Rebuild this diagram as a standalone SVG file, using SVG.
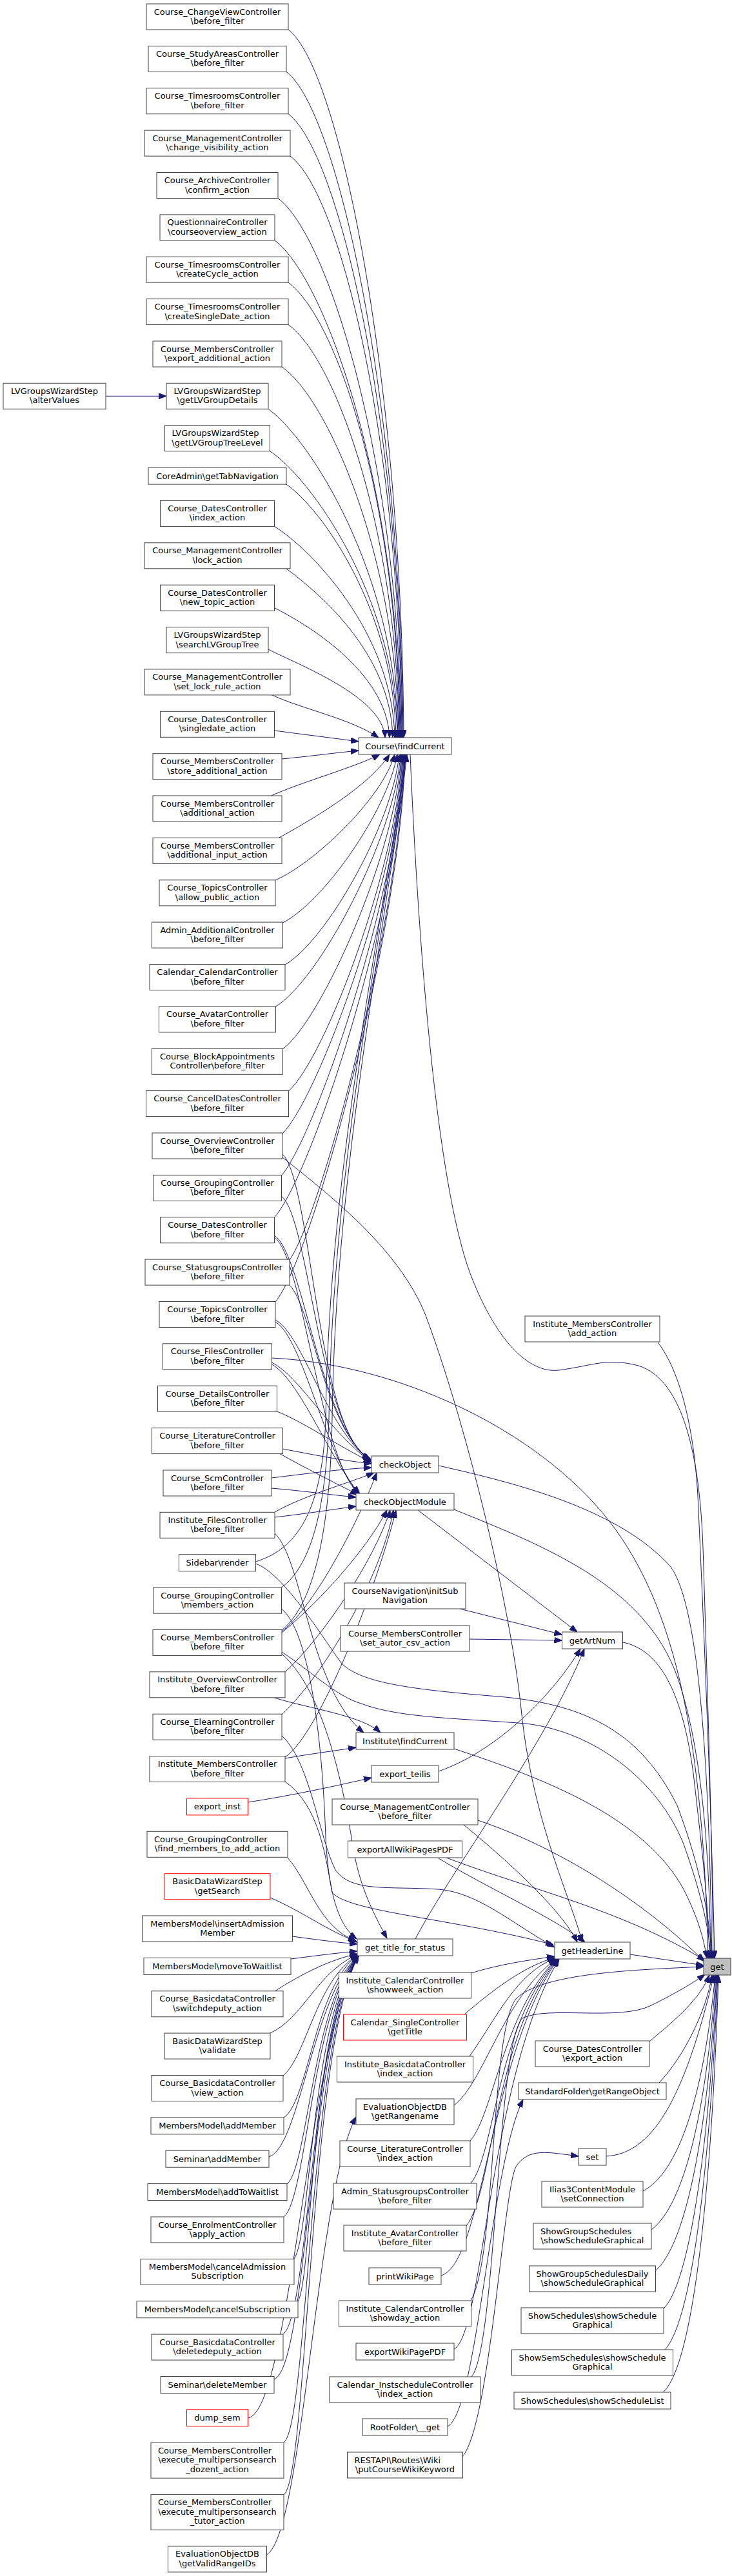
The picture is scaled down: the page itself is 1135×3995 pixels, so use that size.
<svg xmlns="http://www.w3.org/2000/svg" width="1135" height="3995" viewBox="0 0 1135 3995">
<style>
.n rect{fill:#fff;stroke:#404040;stroke-width:1}
.r rect{fill:#fff;stroke:#ff0000;stroke-width:1}
.g rect{fill:#bfbfbf;stroke:#404040;stroke-width:1}
text{font-family:"DejaVu Sans","Liberation Sans",sans-serif;font-size:13px;fill:#000;text-anchor:middle}
text.l{text-anchor:start}
#edges path{fill:none;stroke:#191970;stroke-width:1;marker-end:url(#a)}
</style>
<defs>
<marker id="a" viewBox="0 0 12 9" markerWidth="12" markerHeight="9" refX="12" refY="4.5" orient="auto" markerUnits="userSpaceOnUse"><path d="M0,0 L12,4.5 L0,9 z" fill="#191970" stroke="#191970"/></marker>
</defs>
<rect width="1135" height="3995" fill="#fff"/>
<g id="edges">
<path d="M164,614.3 L258,614.3"/>
<path d="M447,46 C527,106 623,595 626,1144"/>
<path d="M444,111.4 C524,171 622,628 625,1144"/>
<path d="M447,176.7 C527,237 621,660 624,1144"/>
<path d="M450,242.1 C530,302 620,693 623,1144"/>
<path d="M431,307.5 C511,367 619,726 622,1144"/>
<path d="M426,372.9 C506,433 618,758 621,1144"/>
<path d="M447,438.2 C527,498 617,791 620,1144"/>
<path d="M447,503.6 C520,555 616,824 619,1144"/>
<path d="M437,569 C505,615 615,856 618,1144"/>
<path d="M416,634.3 C480,680 614,889 617,1144"/>
<path d="M418.5,699.7 C480,740 613,922 616,1144"/>
<path d="M444,751.1 C500,790 611,948 614,1144"/>
<path d="M425.5,816.4 C480,850 609,980 612,1144"/>
<path d="M444,882 C495,920 606,1013 609,1144"/>
<path d="M425.5,942.7 C470,965 600,1040 604,1144"/>
<path d="M416,1007 C460,1030 594,1080 597,1144"/>
<path d="M422,1078 C470,1100 545,1115 587,1144"/>
<path d="M425.5,1133 C470,1139 512,1144 556,1150"/>
<path d="M437,1177 C480,1173 515,1168 556,1164"/>
<path d="M420.6,1234 C470,1212 550,1190 589,1170"/>
<path d="M433,1299 C500,1262 575,1215 604,1170"/>
<path d="M427,1365 C485,1340 592,1240 612,1170"/>
<path d="M438.5,1431 C500,1400 600,1260 616,1170"/>
<path d="M442,1496 C505,1460 608,1280 619,1170"/>
<path d="M427.5,1561 C495,1520 612,1300 621,1170"/>
<path d="M438.5,1627 C500,1580 615,1320 622,1170"/>
<path d="M447.5,1692 C505,1640 617,1340 623,1170"/>
<path d="M438,1758 C495,1700 618,1360 624,1170"/>
<path d="M436.5,1823 C490,1760 619,1380 625,1170"/>
<path d="M425.5,1888 C485,1820 620,1400 626,1170"/>
<path d="M449,1954 C500,1880 621,1420 627,1170"/>
<path d="M427,2019 C485,1950 622,1440 628,1170"/>
<path d="M396.5,2422 C450,2405 500,2360 505,2200 C510,1800 600,1400 629,1170"/>
<path d="M436.5,2462 C480,2430 505,2350 510,2200 C515,1800 602,1400 630,1170"/>
<path d="M437,2528 C485,2490 512,2380 515,2200 C520,1800 605,1400 631,1170"/>
<path d="M438,1790 C483,1830 492,2230 574,2262"/>
<path d="M436.5,1855 C480,1890 495,2225 575,2263"/>
<path d="M425.5,1916 C470,1945 498,2220 575,2264"/>
<path d="M449,1993 C485,2030 502,2215 575,2265"/>
<path d="M427,2047 C470,2070 505,2215 575,2266"/>
<path d="M421.5,2113 C465,2135 510,2220 575,2267"/>
<path d="M429.5,2189 C470,2205 520,2240 576,2268"/>
<path d="M438.5,2247 C480,2255 530,2265 576,2270"/>
<path d="M421,2292 C480,2285 530,2278 576,2276"/>
<path d="M426,2345 C470,2320 540,2300 580,2284"/>
<path d="M437,2530 C490,2490 560,2350 584,2284"/>
<path d="M425.5,1919 C470,1950 495,2260 556,2317"/>
<path d="M427,2050 C470,2075 505,2260 557,2317"/>
<path d="M421.5,2116 C465,2140 512,2265 558,2317"/>
<path d="M433,2254 C470,2275 520,2300 555,2318"/>
<path d="M421,2308 C470,2312 510,2318 552,2322"/>
<path d="M426,2353 C470,2348 510,2342 552,2336"/>
<path d="M437,2532 C500,2480 570,2400 600,2342"/>
<path d="M442,2593 C500,2540 580,2420 605,2342"/>
<path d="M437,2659 C500,2600 590,2450 610,2342"/>
<path d="M442,2725 C495,2690 585,2460 614,2342"/>
<path d="M426,2378 C470,2420 480,2620 564,2687"/>
<path d="M425.5,2633 C480,2650 560,2660 590,2687"/>
<path d="M442,2727 C480,2720 515,2716 552,2710"/>
<path d="M384.5,2795 C450,2785 520,2770 576,2757"/>
<path d="M438,1795 C520,1860 620,1940 660,2040 C720,2200 790,2480 808,2650 C825,2820 880,2930 903,3012"/>
<path d="M442,2763 C495,2800 505,2880 515,2935 C540,2965 700,2975 858,3016"/>
<path d="M437,2692 C480,2730 495,2850 520,2900 C545,2935 600,2925 680,2930 C740,2935 790,2980 860,3020"/>
<path d="M719,2830 C780,2880 870,2960 895,3012"/>
<path d="M680,2882 C760,2930 860,2975 907,3012"/>
<path d="M648,2342 L895,2531"/>
<path d="M713,2495 L871.5,2535"/>
<path d="M728,2542 L871.5,2544"/>
<path d="M644,3007 C700,2900 850,2700 906,2557"/>
<path d="M680,2747 C760,2720 850,2640 900,2557"/>
<path d="M636,1170 C650,1500 680,1850 731,1980 C770,2080 820,2130 866,2125 C920,2118 940,2105 990,2118 C1060,2140 1085,2260 1090,2400 C1098,2650 1104,2850 1106,3037"/>
<path d="M1020,2082 C1050,2120 1075,2200 1082,2320 C1095,2600 1104,2850 1108,3037"/>
<path d="M680,2273 C800,2300 960,2340 1040,2430 C1090,2500 1100,2800 1104,3037"/>
<path d="M704,2341 C850,2400 1000,2460 1050,2600 C1085,2700 1100,2850 1102,3037"/>
<path d="M966,2547 C1030,2560 1060,2640 1075,2750 C1090,2880 1098,2950 1100,3037"/>
<path d="M704,2712 C850,2760 1000,2820 1060,2930 C1080,2970 1090,3000 1096,3037"/>
<path d="M741,2823 C880,2870 1010,2960 1092,3042"/>
<path d="M692,2881 C820,2930 960,2960 1093,3040"/>
<path d="M421.5,2106 C600,2115 800,2200 920,2330 C1050,2470 1090,2700 1098,3037"/>
<path d="M396.5,2425 C440,2440 500,2540 530,2580 C560,2610 640,2620 760,2630 C900,2640 990,2680 1050,2800 C1080,2880 1100,2960 1104,3037"/>
<path d="M437,2562 C480,2590 520,2630 560,2642 C620,2665 720,2665 815,2673 C920,2685 1020,2760 1060,2860 C1085,2930 1100,2990 1102,3037"/>
<path d="M977,3031 L1091,3048"/>
<path d="M437,2565 C500,2620 530,2760 545,2850 C555,2920 575,2960 600,3006"/>
<path d="M436.5,2495 C480,2530 500,2700 505,2850 C510,2950 530,2990 553,3007"/>
<path d="M446,2881 C480,2920 495,2990 552,3010"/>
<path d="M419,2943 C470,2965 500,2990 554,3012"/>
<path d="M453.5,3003 C490,3008 520,3012 554,3015"/>
<path d="M451,3038 C490,3033 520,3029 554,3026"/>
<path d="M426,3088 C470,3060 510,3040 554,3030"/>
<path d="M419,3153 C470,3130 490,3060 554,3031"/>
<path d="M439,3219 C475,3190 490,3070 555,3032"/>
<path d="M440,3284 C478,3260 488,3080 555,3032"/>
<path d="M417,3345 C465,3330 486,3090 556,3033"/>
<path d="M445,3387 C478,3360 485,3100 556,3033"/>
<path d="M440,3438 C476,3410 484,3110 556,3033"/>
<path d="M456,3503 C482,3470 483,3120 556,3033"/>
<path d="M462,3569 C485,3530 482,3130 556,3033"/>
<path d="M439,3620 C480,3590 481,3140 556,3033"/>
<path d="M425,3690 C478,3670 480,3150 556,3033"/>
<path d="M384.5,3750 C450,3740 479,3160 556,3033"/>
<path d="M440,3788 C478,3760 478,3170 556,3033"/>
<path d="M440,3869 C478,3840 478,3180 556,3033"/>
<path d="M413.5,3962 C470,3930 490,3400 552,3283"/>
<path d="M730,3060 C780,3045 820,3040 860,3034"/>
<path d="M720,3124 C760,3090 810,3050 860,3036"/>
<path d="M728,3189 C770,3130 800,3060 861,3037"/>
<path d="M704,3265 C750,3230 780,3100 862,3038"/>
<path d="M729,3320 C765,3280 780,3120 863,3038"/>
<path d="M730,3386 C768,3340 770,3140 864,3038"/>
<path d="M723,3452 C765,3400 765,3160 865,3038"/>
<path d="M684,3529 C750,3510 760,3180 866,3038"/>
<path d="M704,3643 C750,3620 758,3220 867,3038"/>
<path d="M730,3568 C770,3500 760,3150 800,3100 C840,3060 980,3055 1091,3050"/>
<path d="M731,3686 C770,3640 770,3170 810,3130 C850,3110 960,3135 1010,3110 C1050,3090 1075,3075 1093,3062"/>
<path d="M694,3763 C740,3740 760,3360 811,3256"/>
<path d="M717,3810 C760,3760 780,3400 800,3360 C820,3330 850,3338 897,3344"/>
<path d="M1007,3166 C1050,3130 1085,3100 1100,3063"/>
<path d="M1022,3230 C1060,3190 1095,3120 1104,3063"/>
<path d="M940,3344 C1010,3340 1060,3260 1107,3063"/>
<path d="M997,3398 C1050,3370 1090,3260 1109,3063"/>
<path d="M1010,3458 C1060,3420 1095,3280 1110,3063"/>
<path d="M1016,3522 C1065,3480 1098,3300 1111,3063"/>
<path d="M1029,3580 C1070,3540 1100,3320 1112,3063"/>
<path d="M1030,3645 C1075,3600 1102,3340 1113,3063"/>
<path d="M1027,3711 C1078,3670 1105,3360 1114,3063"/>
</g>
<g id="alterValues" class="n"><rect x="5" y="594.3" width="159" height="40"/><text x="84.5" y="610.8">LVGroupsWizardStep</text><text x="84.5" y="625.3">\alterValues</text></g>
<g id="n1" class="n"><rect x="227" y="6" width="220" height="40"/><text x="337" y="22.5">Course_ChangeViewController</text><text x="337" y="37">\before_filter</text></g>
<g id="n2" class="n"><rect x="230" y="71.4" width="214" height="40"/><text x="337" y="87.9">Course_StudyAreasController</text><text x="337" y="102.4">\before_filter</text></g>
<g id="n3" class="n"><rect x="227" y="136.7" width="220" height="40"/><text x="337" y="153.2">Course_TimesroomsController</text><text x="337" y="167.7">\before_filter</text></g>
<g id="n4" class="n"><rect x="224" y="202.1" width="226" height="40"/><text x="337" y="218.6">Course_ManagementController</text><text x="337" y="233.1">\change_visibility_action</text></g>
<g id="n5" class="n"><rect x="243" y="267.5" width="188" height="40"/><text x="337" y="284">Course_ArchiveController</text><text x="337" y="298.5">\confirm_action</text></g>
<g id="n6" class="n"><rect x="248" y="332.9" width="178" height="40"/><text x="337" y="349.4">QuestionnaireController</text><text x="337" y="363.9">\courseoverview_action</text></g>
<g id="n7" class="n"><rect x="227" y="398.2" width="220" height="40"/><text x="337" y="414.7">Course_TimesroomsController</text><text x="337" y="429.2">\createCycle_action</text></g>
<g id="n8" class="n"><rect x="227" y="463.6" width="220" height="40"/><text x="337" y="480.1">Course_TimesroomsController</text><text x="337" y="494.6">\createSingleDate_action</text></g>
<g id="n9" class="n"><rect x="237" y="529" width="200" height="40"/><text x="337" y="545.5">Course_MembersController</text><text x="337" y="560">\export_additional_action</text></g>
<g id="n10" class="n"><rect x="258" y="594.3" width="158" height="40"/><text x="337" y="610.8">LVGroupsWizardStep</text><text x="337" y="625.3">\getLVGroupDetails</text></g>
<g id="n11" class="n"><rect x="255.5" y="659.7" width="163" height="40"/><text class="l" x="266.5" y="676.2">LVGroupsWizardStep</text><text x="337" y="690.7">\getLVGroupTreeLevel</text></g>
<g id="n12" class="n"><rect x="230" y="725.1" width="214" height="26"/><text x="337" y="742.6">CoreAdmin\getTabNavigation</text></g>
<g id="n13" class="n"><rect x="248.5" y="776.4" width="177" height="40"/><text x="337" y="792.9">Course_DatesController</text><text x="337" y="807.4">\index_action</text></g>
<g id="n14" class="n"><rect x="224" y="841.8" width="226" height="40"/><text x="337" y="858.3">Course_ManagementController</text><text x="337" y="872.8">\lock_action</text></g>
<g id="n15" class="n"><rect x="248.5" y="907.2" width="177" height="40"/><text x="337" y="923.7">Course_DatesController</text><text x="337" y="938.2">\new_topic_action</text></g>
<g id="n16" class="n"><rect x="258" y="972.6" width="158" height="40"/><text x="337" y="989.1">LVGroupsWizardStep</text><text x="337" y="1003.6">\searchLVGroupTree</text></g>
<g id="n17" class="n"><rect x="224" y="1037.9" width="226" height="40"/><text x="337" y="1054.4">Course_ManagementController</text><text x="337" y="1068.9">\set_lock_rule_action</text></g>
<g id="n18" class="n"><rect x="248.5" y="1103.3" width="177" height="40"/><text x="337" y="1119.8">Course_DatesController</text><text x="337" y="1134.3">\singledate_action</text></g>
<g id="n19" class="n"><rect x="237" y="1168.7" width="200" height="40"/><text x="337" y="1185.2">Course_MembersController</text><text x="337" y="1199.7">\store_additional_action</text></g>
<g id="n20" class="n"><rect x="237" y="1234" width="200" height="40"/><text x="337" y="1250.5">Course_MembersController</text><text x="337" y="1265">\additional_action</text></g>
<g id="n21" class="n"><rect x="237" y="1299.4" width="200" height="40"/><text x="337" y="1315.9">Course_MembersController</text><text x="337" y="1330.4">\additional_input_action</text></g>
<g id="n22" class="n"><rect x="247" y="1364.8" width="180" height="40"/><text x="337" y="1381.3">Course_TopicsController</text><text x="337" y="1395.8">\allow_public_action</text></g>
<g id="n23" class="n"><rect x="235.5" y="1430.1" width="203" height="40"/><text x="337" y="1446.6">Admin_AdditionalController</text><text x="337" y="1461.1">\before_filter</text></g>
<g id="n24" class="n"><rect x="232" y="1495.5" width="210" height="40"/><text x="337" y="1512">Calendar_CalendarController</text><text x="337" y="1526.5">\before_filter</text></g>
<g id="n25" class="n"><rect x="246.5" y="1560.9" width="181" height="40"/><text x="337" y="1577.4">Course_AvatarController</text><text x="337" y="1591.9">\before_filter</text></g>
<g id="n26" class="n"><rect x="235.5" y="1626.3" width="203" height="40"/><text x="337" y="1642.8">Course_BlockAppointments</text><text x="337" y="1657.3">Controller\before_filter</text></g>
<g id="n27" class="n"><rect x="226.5" y="1691.6" width="221" height="40"/><text x="337" y="1708.1">Course_CancelDatesController</text><text x="337" y="1722.6">\before_filter</text></g>
<g id="n28" class="n"><rect x="236" y="1757" width="202" height="40"/><text x="337" y="1773.5">Course_OverviewController</text><text x="337" y="1788">\before_filter</text></g>
<g id="n29" class="n"><rect x="237.5" y="1822.4" width="199" height="40"/><text x="337" y="1838.9">Course_GroupingController</text><text x="337" y="1853.4">\before_filter</text></g>
<g id="n30" class="n"><rect x="248.5" y="1887.7" width="177" height="40"/><text x="337" y="1904.2">Course_DatesController</text><text x="337" y="1918.7">\before_filter</text></g>
<g id="n31" class="n"><rect x="225" y="1953.1" width="224" height="40"/><text x="337" y="1969.6">Course_StatusgroupsController</text><text x="337" y="1984.1">\before_filter</text></g>
<g id="n32" class="n"><rect x="247" y="2018.5" width="180" height="40"/><text x="337" y="2035">Course_TopicsController</text><text x="337" y="2049.5">\before_filter</text></g>
<g id="n33" class="n"><rect x="252.5" y="2083.8" width="169" height="40"/><text x="337" y="2100.3">Course_FilesController</text><text x="337" y="2114.8">\before_filter</text></g>
<g id="n34" class="n"><rect x="244.5" y="2149.2" width="185" height="40"/><text x="337" y="2165.7">Course_DetailsController</text><text x="337" y="2180.2">\before_filter</text></g>
<g id="n35" class="n"><rect x="235.5" y="2214.6" width="203" height="40"/><text x="337" y="2231.1">Course_LiteratureController</text><text x="337" y="2245.6">\before_filter</text></g>
<g id="n36" class="n"><rect x="253" y="2280" width="168" height="40"/><text x="337" y="2296.5">Course_ScmController</text><text x="337" y="2311">\before_filter</text></g>
<g id="n37" class="n"><rect x="248" y="2345.3" width="178" height="40"/><text x="337" y="2361.8">Institute_FilesController</text><text x="337" y="2376.3">\before_filter</text></g>
<g id="n38" class="n"><rect x="277.5" y="2410.7" width="119" height="26"/><text x="337" y="2428.2">Sidebar\render</text></g>
<g id="n39" class="n"><rect x="237.5" y="2462.1" width="199" height="40"/><text x="337" y="2478.6">Course_GroupingController</text><text x="337" y="2493.1">\members_action</text></g>
<g id="n40" class="n"><rect x="237" y="2527.4" width="200" height="40"/><text x="337" y="2543.9">Course_MembersController</text><text x="337" y="2558.4">\before_filter</text></g>
<g id="n41" class="n"><rect x="232" y="2592.8" width="210" height="40"/><text x="337" y="2609.3">Institute_OverviewController</text><text x="337" y="2623.8">\before_filter</text></g>
<g id="n42" class="n"><rect x="237" y="2658.2" width="200" height="40"/><text x="337" y="2674.7">Course_ElearningController</text><text x="337" y="2689.2">\before_filter</text></g>
<g id="n43" class="n"><rect x="232" y="2723.5" width="210" height="40"/><text x="337" y="2740">Institute_MembersController</text><text x="337" y="2754.5">\before_filter</text></g>
<g id="n44" class="r"><rect x="289.5" y="2788.9" width="95" height="26"/><text x="337" y="2806.4">export_inst</text></g>
<g id="n45" class="n"><rect x="228" y="2840.3" width="218" height="40"/><text class="l" x="239" y="2856.8">Course_GroupingController</text><text x="337" y="2871.3">\find_members_to_add_action</text></g>
<g id="n46" class="r"><rect x="255" y="2905.7" width="164" height="40"/><text x="337" y="2922.2">BasicDataWizardStep</text><text x="337" y="2936.7">\getSearch</text></g>
<g id="n47" class="n"><rect x="220.5" y="2971" width="233" height="40"/><text x="337" y="2987.5">MembersModel\insertAdmission</text><text x="337" y="3002">Member</text></g>
<g id="n48" class="n"><rect x="223" y="3036.4" width="228" height="26"/><text x="337" y="3053.9">MembersModel\moveToWaitlist</text></g>
<g id="n49" class="n"><rect x="235" y="3087.8" width="204" height="40"/><text x="337" y="3104.3">Course_BasicdataController</text><text x="337" y="3118.8">\switchdeputy_action</text></g>
<g id="n50" class="n"><rect x="255" y="3153.1" width="164" height="40"/><text x="337" y="3169.6">BasicDataWizardStep</text><text x="337" y="3184.1">\validate</text></g>
<g id="n51" class="n"><rect x="235" y="3218.5" width="204" height="40"/><text x="337" y="3235">Course_BasicdataController</text><text x="337" y="3249.5">\view_action</text></g>
<g id="n52" class="n"><rect x="234" y="3283.9" width="206" height="26"/><text x="337" y="3301.4">MembersModel\addMember</text></g>
<g id="n53" class="n"><rect x="257" y="3335.2" width="160" height="26"/><text x="337" y="3352.7">Seminar\addMember</text></g>
<g id="n54" class="n"><rect x="229" y="3386.6" width="216" height="26"/><text x="337" y="3404.1">MembersModel\addToWaitlist</text></g>
<g id="n55" class="n"><rect x="234" y="3438" width="206" height="40"/><text x="337" y="3454.5">Course_EnrolmentController</text><text x="337" y="3469">\apply_action</text></g>
<g id="n56" class="n"><rect x="218" y="3503.4" width="238" height="40"/><text x="337" y="3519.9">MembersModel\cancelAdmission</text><text x="337" y="3534.4">Subscription</text></g>
<g id="n57" class="n"><rect x="212" y="3568.7" width="250" height="26"/><text x="337" y="3586.2">MembersModel\cancelSubscription</text></g>
<g id="n58" class="n"><rect x="235" y="3620.1" width="204" height="40"/><text x="337" y="3636.6">Course_BasicdataController</text><text x="337" y="3651.1">\deletedeputy_action</text></g>
<g id="n59" class="n"><rect x="249" y="3685.5" width="176" height="26"/><text x="337" y="3703">Seminar\deleteMember</text></g>
<g id="n60" class="r"><rect x="289.5" y="3736.8" width="95" height="26"/><text x="337" y="3754.3">dump_sem</text></g>
<g id="n61" class="n"><rect x="234" y="3788.2" width="206" height="55"/><text class="l" x="245" y="3804.7">Course_MembersController</text><text x="337" y="3819.2">\execute_multipersonsearch</text><text x="337" y="3833.7">_dozent_action</text></g>
<g id="n62" class="n"><rect x="234" y="3868.6" width="206" height="55"/><text class="l" x="245" y="3885.1">Course_MembersController</text><text x="337" y="3899.6">\execute_multipersonsearch</text><text x="337" y="3914.1">_tutor_action</text></g>
<g id="n63" class="n"><rect x="260.5" y="3948.9" width="153" height="40"/><text x="337" y="3965.4">EvaluationObjectDB</text><text x="337" y="3979.9">\getValidRangeIDs</text></g>
<g id="findCurrent" class="n"><rect x="556" y="1144" width="144" height="26"/><text x="628" y="1161.5">Course\findCurrent</text></g>
<g id="checkObject" class="n"><rect x="576" y="2258" width="104" height="26"/><text x="628" y="2275.5">checkObject</text></g>
<g id="checkObjectModule" class="n"><rect x="552" y="2316" width="152" height="26"/><text x="628" y="2333.5">checkObjectModule</text></g>
<g id="initSubNavigation" class="n"><rect x="534" y="2455" width="188" height="40"/><text x="628" y="2471.5">CourseNavigation\initSub</text><text x="628" y="2486">Navigation</text></g>
<g id="set_autor_csv" class="n"><rect x="528" y="2521" width="200" height="40"/><text x="628" y="2537.5">Course_MembersController</text><text x="628" y="2552">\set_autor_csv_action</text></g>
<g id="instFindCurrent" class="n"><rect x="552" y="2687" width="152" height="26"/><text x="628" y="2704.5">Institute\findCurrent</text></g>
<g id="export_teilis" class="n"><rect x="576" y="2738" width="104" height="26"/><text x="628" y="2755.5">export_teilis</text></g>
<g id="mgmtBefore" class="n"><rect x="515" y="2790" width="226" height="40"/><text x="628" y="2806.5">Course_ManagementController</text><text x="628" y="2821">\before_filter</text></g>
<g id="exportAllWiki" class="n"><rect x="539.5" y="2855" width="177" height="26"/><text x="628" y="2872.5">exportAllWikiPagesPDF</text></g>
<g id="get_title_for_status" class="n"><rect x="554" y="3007" width="148" height="26"/><text x="628" y="3024.5">get_title_for_status</text></g>
<g id="showweek" class="n"><rect x="525.5" y="3059" width="205" height="40"/><text x="628" y="3075.5">Institute_CalendarController</text><text x="628" y="3090">\showweek_action</text></g>
<g id="getTitle" class="r"><rect x="532.5" y="3124" width="191" height="40"/><text x="628" y="3140.5">Calendar_SingleController</text><text x="628" y="3155">\getTitle</text></g>
<g id="instBasicIndex" class="n"><rect x="522.5" y="3189" width="211" height="40"/><text x="628" y="3205.5">Institute_BasicdataController</text><text x="628" y="3220">\index_action</text></g>
<g id="getRangename" class="n"><rect x="552" y="3255" width="152" height="40"/><text x="628" y="3271.5">EvaluationObjectDB</text><text x="628" y="3286">\getRangename</text></g>
<g id="litIndex" class="n"><rect x="527" y="3320" width="202" height="40"/><text x="628" y="3336.5">Course_LiteratureController</text><text x="628" y="3351">\index_action</text></g>
<g id="adminStatus" class="n"><rect x="517" y="3386" width="222" height="40"/><text x="628" y="3402.5">Admin_StatusgroupsController</text><text x="628" y="3417">\before_filter</text></g>
<g id="instAvatar" class="n"><rect x="533" y="3451" width="190" height="40"/><text x="628" y="3467.5">Institute_AvatarController</text><text x="628" y="3482">\before_filter</text></g>
<g id="printWikiPage" class="n"><rect x="572" y="3517" width="112" height="26"/><text x="628" y="3534.5">printWikiPage</text></g>
<g id="showday" class="n"><rect x="525.5" y="3568" width="205" height="40"/><text x="628" y="3584.5">Institute_CalendarController</text><text x="628" y="3599">\showday_action</text></g>
<g id="exportWikiPagePDF" class="n"><rect x="552" y="3634" width="152" height="26"/><text x="628" y="3651.5">exportWikiPagePDF</text></g>
<g id="instschedule" class="n"><rect x="511" y="3686" width="234" height="40"/><text x="628" y="3702.5">Calendar_InstscheduleController</text><text x="628" y="3717">\index_action</text></g>
<g id="rootFolderGet" class="n"><rect x="562" y="3751" width="132" height="26"/><text x="628" y="3768.5">RootFolder\__get</text></g>
<g id="restapi" class="n"><rect x="538.5" y="3803" width="179" height="40"/><text class="l" x="549.5" y="3819.5">RESTAPI\Routes\Wiki</text><text x="628" y="3834">\putCourseWikiKeyword</text></g>
<g id="instMembersAdd" class="n"><rect x="814" y="2041" width="209" height="40"/><text x="918.5" y="2057.5">Institute_MembersController</text><text x="918.5" y="2072">\add_action</text></g>
<g id="getArtNum" class="n"><rect x="871.5" y="2531" width="94" height="26"/><text x="918.5" y="2548.5">getArtNum</text></g>
<g id="getHeaderLine" class="n"><rect x="860" y="3012" width="117" height="26"/><text x="918.5" y="3029.5">getHeaderLine</text></g>
<g id="datesExport" class="n"><rect x="830" y="3165" width="177" height="40"/><text x="918.5" y="3181.5">Course_DatesController</text><text x="918.5" y="3196">\export_action</text></g>
<g id="getRangeObject" class="n"><rect x="804" y="3230" width="229" height="26"/><text x="918.5" y="3247.5">StandardFolder\getRangeObject</text></g>
<g id="set" class="n"><rect x="897" y="3332" width="43" height="26"/><text x="918.5" y="3349.5">set</text></g>
<g id="ilias3" class="n"><rect x="840" y="3383" width="157" height="40"/><text x="918.5" y="3399.5">Ilias3ContentModule</text><text x="918.5" y="3414">\setConnection</text></g>
<g id="showGroupSchedules" class="n"><rect x="827" y="3448" width="183" height="40"/><text class="l" x="838" y="3464.5">ShowGroupSchedules</text><text x="918.5" y="3479">\showScheduleGraphical</text></g>
<g id="showGroupSchedulesDaily" class="n"><rect x="820.5" y="3514" width="196" height="40"/><text x="918.5" y="3530.5">ShowGroupSchedulesDaily</text><text x="918.5" y="3545">\showScheduleGraphical</text></g>
<g id="showSchedulesGraphical" class="n"><rect x="808" y="3579" width="221" height="40"/><text x="918.5" y="3595.5">ShowSchedules\showSchedule</text><text x="918.5" y="3610">Graphical</text></g>
<g id="showSemSchedules" class="n"><rect x="793.5" y="3644" width="250" height="40"/><text x="918.5" y="3660.5">ShowSemSchedules\showSchedule</text><text x="918.5" y="3675">Graphical</text></g>
<g id="showScheduleList" class="n"><rect x="797" y="3710" width="243" height="26"/><text x="918.5" y="3727.5">ShowSchedules\showScheduleList</text></g>
<g id="get" class="g"><rect x="1091" y="3037" width="42" height="26"/><text x="1112" y="3054.5">get</text></g>
</svg>
